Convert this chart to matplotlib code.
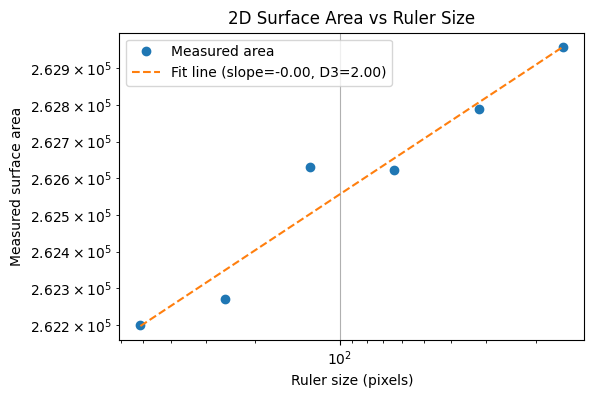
import numpy as np
import matplotlib
matplotlib.use("Agg")
import matplotlib.pyplot as plt

# ruler sizes (pixels) and measured surface area
ruler_sizes = [512, 256, 128, 64, 32, 16]
areas = [262200, 262270, 262630, 262622, 262788, 262957]

log_r = np.log10(ruler_sizes)
log_a = np.log10(areas)
slope, intercept = np.polyfit(log_r, log_a, 1)
D3 = 2 - slope
fit_vals = 10 ** (slope * log_r + intercept)

fig, ax = plt.subplots(figsize=(5.94, 3.98), dpi=100)
ax.plot(ruler_sizes, areas, 'o', label='Measured area')
ax.plot(ruler_sizes, fit_vals, '--', label=f'Fit line (slope={slope:.2f}, D3={D3:.2f})')
ax.set_xscale('log')
ax.set_yscale('log')
ax.invert_xaxis()
ax.set_xlabel('Ruler size (pixels)')
ax.set_ylabel('Measured surface area')
ax.set_title('2D Surface Area vs Ruler Size')
ax.legend(loc='upper left')
ax.grid(True)

fig.subplots_adjust(left=0.2008, right=0.9837, top=0.9178, bottom=0.1457)
fig.savefig("out.png", dpi=100)
